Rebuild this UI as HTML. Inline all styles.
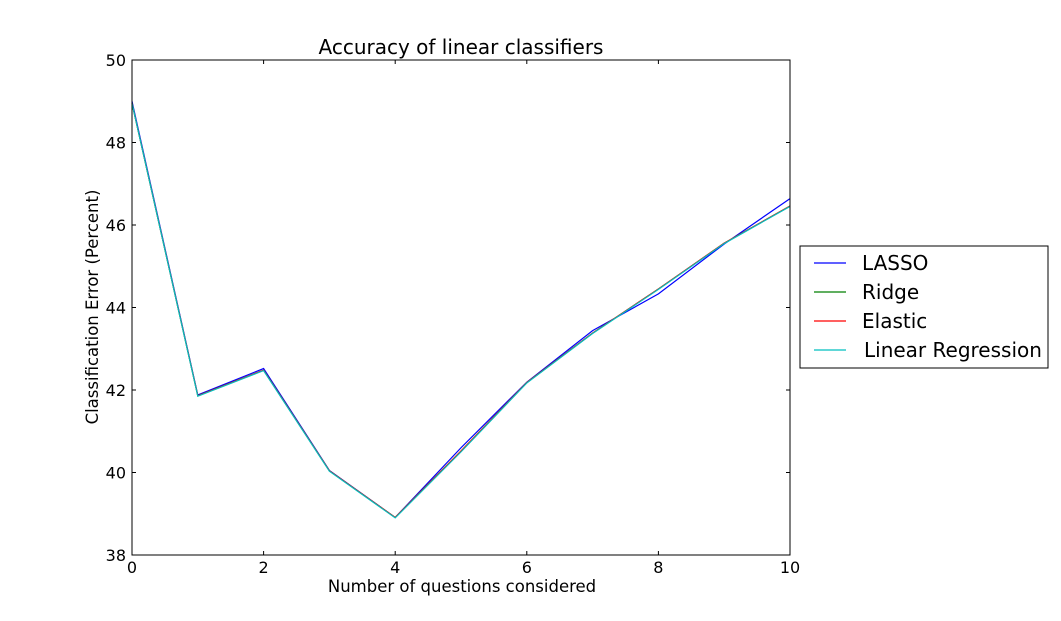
<!DOCTYPE html>
<html><head><meta charset="utf-8"><style>
body{margin:0;background:#fff;font-family:"DejaVu Sans","Liberation Sans",sans-serif}
svg text{font-family:"DejaVu Sans","Liberation Sans",sans-serif}
</style></head><body>
<svg id="chart" width="1061" height="617"></svg>
<script>
const xVals=[0,1,2,3,4,5,6,7,8,9,10];
const lasso=[49.0,41.88,42.52,40.05,38.91,40.6,42.19,43.44,44.33,45.54,46.64];
const ridge=[48.95,41.86,42.48,40.04,38.91,40.52,42.18,43.38,44.45,45.56,46.46];
const elastic=[48.95,41.86,42.48,40.04,38.91,40.52,42.18,43.38,44.45,45.56,46.46];
const linreg=[48.95,41.85,42.47,40.03,38.9,40.5,42.17,43.37,44.44,45.55,46.45];
const xTicks=[0,2,4,6,8,10];
const yTicks=[38,40,42,44,46,48,50];
const seriesNames=["LASSO","Ridge","Elastic","Linear Regression"];
const seriesColors=["#0000ff","#007f00","#ff0000","#00bfbf"];
const seriesData=[lasso,ridge,elastic,linreg];

const NS="http://www.w3.org/2000/svg",svg=document.getElementById('chart');
const L=132,R=790,T=60,B=555;
const sx=v=>L+(v-0)/(10-0)*(R-L), sy=v=>B-(v-38)/(50-38)*(B-T);
function mk(t,a,p){const e=document.createElementNS(NS,t);for(const k in a)e.setAttribute(k,a[k]);(p||svg).appendChild(e);return e;}
const plot=mk('g',{});


[0,1,2,3].forEach(i=>{
 const d=seriesData[i];
 const pl=mk('polyline',{points:d.map((v,j)=>sx(xVals[j])+','+sy(v)).join(' '),fill:'none',stroke:seriesColors[i],'stroke-width':1.2},plot);
 
 
});
const frame=mk('rect',{x:L,y:T,width:R-L,height:B-T,fill:'none',stroke:'#000','stroke-width':1});


xTicks.forEach(v=>{
 const x=sx(v);
 mk('line',{x1:x,x2:x,y1:B,y2:B-4,stroke:'#000'});mk('line',{x1:x,x2:x,y1:T,y2:T+4,stroke:'#000'});
 const t=mk('text',{x:x,y:B+18,'text-anchor':'middle','font-size':16});t.textContent=v;
 
 
});
yTicks.forEach(v=>{
 const y=sy(v);
 mk('line',{x1:L,x2:L+4,y1:y,y2:y,stroke:'#000'});mk('line',{x1:R,x2:R-4,y1:y,y2:y,stroke:'#000'});
 const t=mk('text',{x:L-6,y:y+6,'text-anchor':'end','font-size':16});t.textContent=v;
 
 
});
let t=mk('text',{x:461,y:54,'text-anchor':'middle','font-size':20});t.textContent='Accuracy of linear classifiers';


t=mk('text',{x:462,y:592,'text-anchor':'middle','font-size':16.5});t.textContent='Number of questions considered';


t=mk('text',{x:98,y:307,'text-anchor':'middle','font-size':16.5,transform:'rotate(-90 98 307)'});t.textContent='Classification Error (Percent)';


const lg=mk('g',{});


mk('rect',{x:800,y:246,width:248,height:122,fill:'#fff',stroke:'#000'},lg);
seriesNames.forEach((n,i)=>{
 const y=263+i*29;
 const g=mk('g',{},lg);
 
 
 mk('line',{x1:814,x2:846,y1:y,y2:y,stroke:seriesColors[i],'stroke-width':1.2},g);
 const tt=mk('text',{x:i==3?864:862,y:y+7,'font-size':20},g);tt.textContent=n;
});
</script>
</body></html>
